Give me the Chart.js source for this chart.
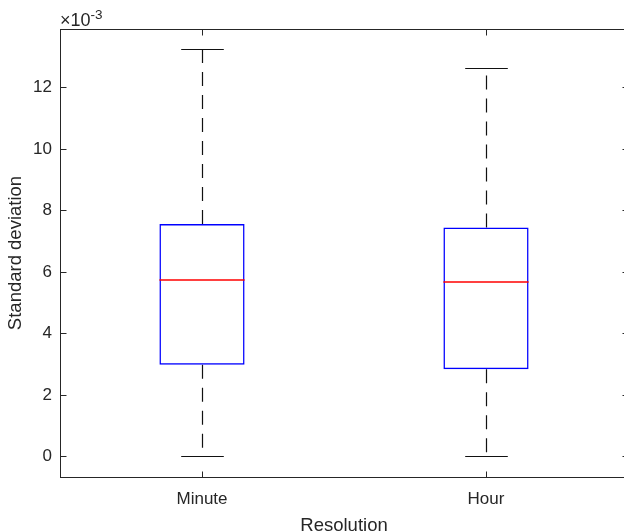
<!DOCTYPE html>
<html>
<head>
<meta charset="utf-8">
<script src="https://cdn.jsdelivr.net/npm/chart.js@4.4.1/dist/chart.umd.min.js"></script>
<style>
  html, body { margin: 0; padding: 0; overflow: hidden; background: #fff; }
  #wrap { width: 632px; height: 540px; }
</style>
</head>
<body>
<div id="wrap"><canvas id="box-chart" width="632" height="540"></canvas></div>
<script>
// box plot stats
var categories = ['Minute', 'Hour'];
var whiskerLow = [0, 0];
var q1 = [0.00299, 0.00284];
var median = [0.00575, 0.00568];
var q3 = [0.00756, 0.00745];
var whiskerHigh = [0.01324, 0.01263];
var yTicks = [0, 0.002, 0.004, 0.006, 0.008, 0.010, 0.012];
var yMin = -0.00066, yMax = 0.0139;

var axisColor = '#262626';
var fontFam = '"Liberation Sans", Arial, Helvetica, sans-serif';

function crisp(v) { return Math.round(v - 0.5) + 0.5; }

var boxPlugin = {
    id: 'boxParts',
    beforeDatasetsDraw: function(chart) {
        var ctx = chart.ctx, x = chart.scales.x, y = chart.scales.y;
        var step = x.getPixelForValue(1) - x.getPixelForValue(0);
        ctx.save();
        ctx.strokeStyle = '#111';
        ctx.lineWidth = 1.2;
        categories.forEach(function(c, i) {
            var cx = crisp(x.getPixelForValue(i));
            var capHalf = step * 0.075;
            // dashed whiskers
            ctx.setLineDash([14, 9]);
            ctx.beginPath();
            ctx.moveTo(cx, y.getPixelForValue(q3[i]));
            ctx.lineTo(cx, y.getPixelForValue(whiskerHigh[i]));
            ctx.moveTo(cx, y.getPixelForValue(q1[i]));
            ctx.lineTo(cx, y.getPixelForValue(whiskerLow[i]));
            ctx.stroke();
            // caps
            ctx.setLineDash([]);
            ctx.beginPath();
            var yh = crisp(y.getPixelForValue(whiskerHigh[i]));
            var yl = crisp(y.getPixelForValue(whiskerLow[i]));
            ctx.moveTo(cx - capHalf, yh); ctx.lineTo(cx + capHalf, yh);
            ctx.moveTo(cx - capHalf, yl); ctx.lineTo(cx + capHalf, yl);
            ctx.stroke();
        });
        ctx.restore();
    },
    afterDatasetsDraw: function(chart) {
        var ctx = chart.ctx, x = chart.scales.x, y = chart.scales.y;
        var step = x.getPixelForValue(1) - x.getPixelForValue(0);
        ctx.save();
        ctx.setLineDash([]);
        ctx.strokeStyle = 'rgb(255, 0, 0)';
        ctx.lineWidth = 1.5;
        categories.forEach(function(c, i) {
            var cx = x.getPixelForValue(i);
            var ym = Math.round(y.getPixelForValue(median[i]));
            ctx.beginPath();
            ctx.moveTo(cx - step * 0.15, ym);
            ctx.lineTo(cx + step * 0.15, ym);
            ctx.stroke();
        });
        ctx.restore();
    },
    afterDraw: function(chart) {
        var ctx = chart.ctx, a = chart.chartArea, x = chart.scales.x, y = chart.scales.y;
        var l = crisp(a.left), r = crisp(a.right), t = crisp(a.top), b = crisp(a.bottom);
        ctx.save();
        ctx.strokeStyle = axisColor;
        ctx.lineWidth = 1;
        ctx.strokeRect(l, t, r - l, b - t);
        ctx.beginPath();
        yTicks.forEach(function(v) {
            var yy = crisp(y.getPixelForValue(v));
            ctx.moveTo(l, yy); ctx.lineTo(l + 6, yy);
            ctx.moveTo(r, yy); ctx.lineTo(r - 6, yy);
        });
        categories.forEach(function(c, i) {
            var xx = crisp(x.getPixelForValue(i));
            ctx.moveTo(xx, b); ctx.lineTo(xx, b - 6);
            ctx.moveTo(xx, t); ctx.lineTo(xx, t + 6);
        });
        ctx.stroke();
        // exponent label
        ctx.fillStyle = axisColor;
        ctx.textBaseline = 'alphabetic';
        ctx.textAlign = 'left';
        ctx.font = '18px ' + fontFam;
        ctx.fillText('\u00d710', a.left, a.top - 3);
        var w = ctx.measureText('\u00d710').width;
        ctx.font = '13.5px ' + fontFam;
        ctx.fillText('-3', a.left + w, a.top - 10);
        ctx.restore();
    }
};

var ctx = document.getElementById('box-chart');
var chart = new Chart(ctx, {
    type: 'bar',
    data: {
        labels: categories,
        datasets: [{
            data: categories.map(function(c, i) { return [q1[i], q3[i]]; }),
            backgroundColor: 'transparent',
            borderColor: '#0000ff',
            borderWidth: 1.5,
            borderSkipped: false,
            inflateAmount: 0,
            barPercentage: 0.3,
            categoryPercentage: 1
        }]
    },
    options: {
        responsive: false,
        animation: false,
        layout: { padding: { top: 29, right: 4, left: 0, bottom: 0 } },
        plugins: { legend: { display: false }, tooltip: { enabled: false } },
        scales: {
            x: {
                grid: { display: false },
                border: { display: false },
                afterFit: function(s) { s.height = 63; },
                ticks: { color: axisColor, font: { family: fontFam, size: 17 }, padding: 4 },
                title: {
                    display: true, text: 'Resolution', color: axisColor,
                    font: { family: fontFam, size: 18.5, lineHeight: 1 },
                    padding: { top: 0, bottom: 5 }
                }
            },
            y: {
                min: yMin,
                max: yMax,
                grid: { display: false },
                border: { display: false },
                afterFit: function(s) { s.width = 60; },
                afterBuildTicks: function(s) { s.ticks = yTicks.map(function(v) { return { value: v }; }); },
                ticks: {
                    color: axisColor,
                    font: { family: fontFam, size: 17 },
                    padding: 0,
                    callback: function(value) { return Math.round(value * 1000).toString(); }
                },
                title: {
                    display: true, text: 'Standard deviation', color: axisColor,
                    font: { family: fontFam, size: 18.5, lineHeight: 1 },
                    padding: { top: 7, bottom: 0 }
                }
            }
        }
    },
    plugins: [boxPlugin]
});
</script>
</body>
</html>
